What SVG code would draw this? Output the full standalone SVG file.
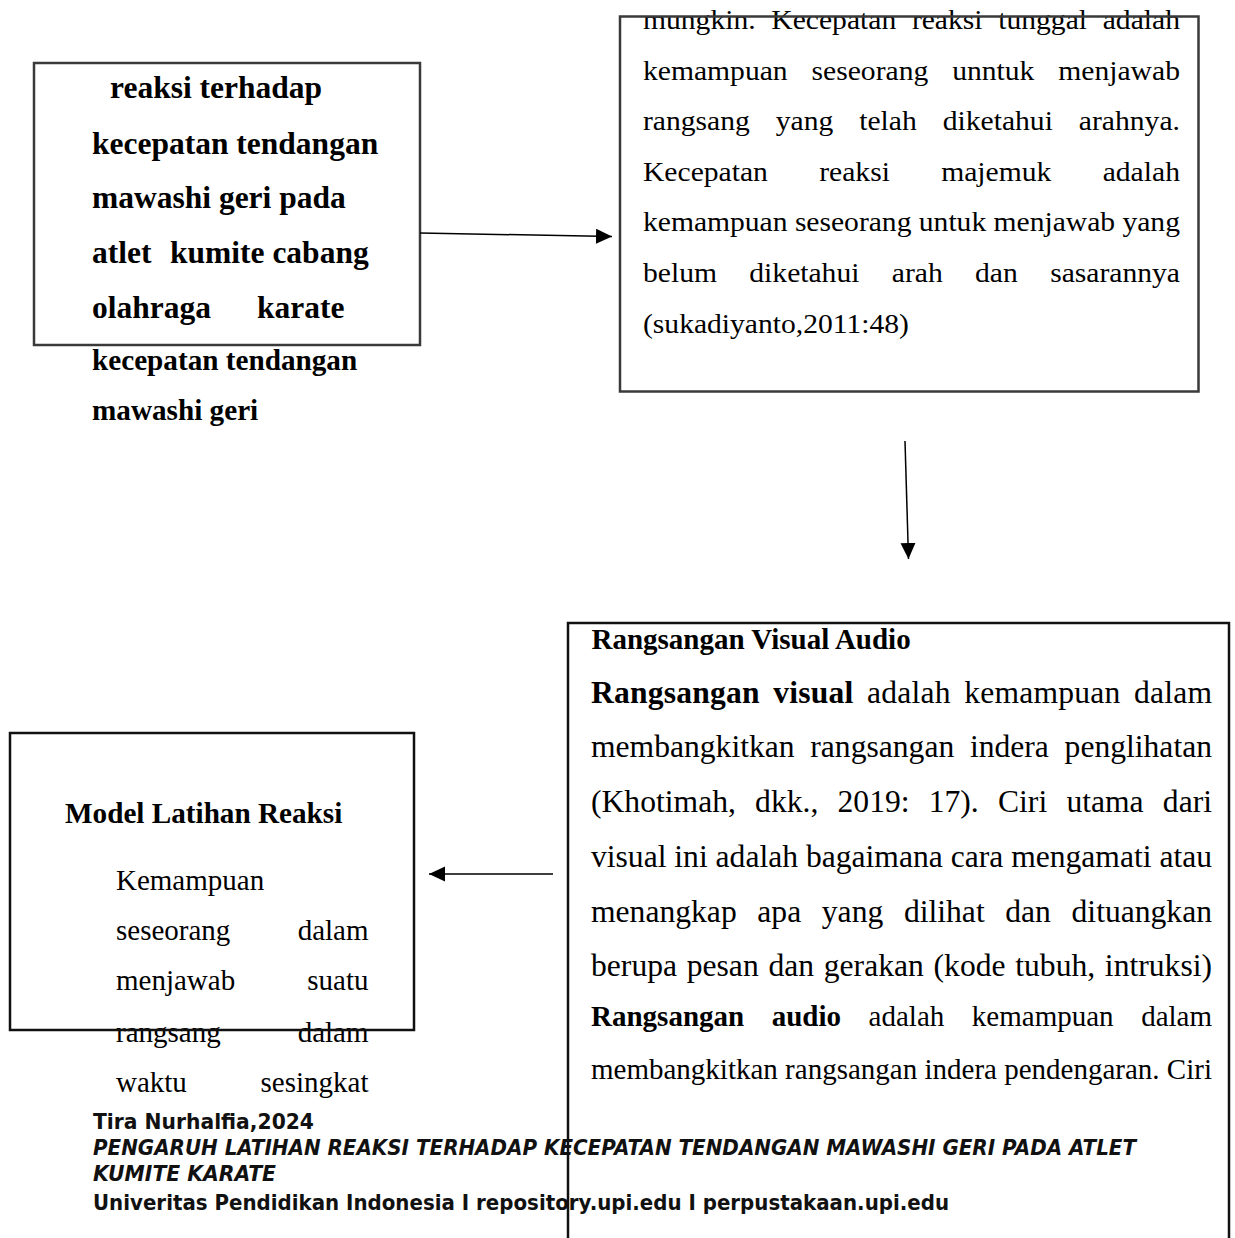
<svg xmlns="http://www.w3.org/2000/svg" width="1235" height="1238" viewBox="0 0 1235 1238">
<style>
.box{fill:none;stroke:#3a3a3a;stroke-width:2.5}
.boxk{fill:none;stroke:#111;stroke-width:2.5}
.b{font-family:"Liberation Serif","Times New Roman",serif;font-weight:bold;fill:#000}
.r{font-family:"Liberation Serif","Times New Roman",serif;font-weight:normal;fill:#000}
.foot{font-family:"DejaVu Sans","Liberation Sans",sans-serif;font-weight:bold;font-size:21px;fill:#111}
.conn{stroke:#000;stroke-width:1.5;fill:none;marker-end:url(#ah)}
</style>
<defs>
<marker id="ah" markerUnits="userSpaceOnUse" markerWidth="17" markerHeight="16" refX="16" refY="7.5" orient="auto">
<path d="M0,0 L16,7.5 L0,15 z" fill="#000"/>
</marker>
</defs>
<rect width="1235" height="1238" fill="#fff"/>

<g id="node-topleft">
<g class="b" font-size="31.5">
<text x="110" y="98">reaksi terhadap</text>
<text x="92" y="154">kecepatan tendangan</text>
<text x="92" y="208">mawashi geri pada</text>
<text x="92" y="263">atlet<tspan x="170">kumite cabang</tspan></text>
<text x="92" y="318">olahraga<tspan x="257">karate</tspan></text>
</g>
<g class="b" font-size="29.2">
<text x="92" y="370">kecepatan tendangan</text>
<text x="92" y="420">mawashi geri</text>
</g>
<rect class="box" x="34" y="63" width="386" height="282"/>
</g>

<g id="node-topright">
<g class="r" font-size="27.5" transform="matrix(1.076,0,0,1,-48.87,0)">
<text x="643" y="29.5" word-spacing="7.7" textLength="499" lengthAdjust="spacing">mungkin. Kecepatan reaksi tunggal adalah</text>
<text x="643" y="80" word-spacing="15.3" textLength="499" lengthAdjust="spacing">kemampuan seseorang unntuk menjawab</text>
<text x="643" y="130.5" word-spacing="17.2" textLength="499" lengthAdjust="spacing">rangsang yang telah diketahui arahnya.</text>
<text x="643" y="181" word-spacing="40.8" textLength="499" lengthAdjust="spacing">Kecepatan reaksi majemuk adalah</text>
<text x="643" y="231.5" textLength="499" lengthAdjust="spacing">kemampuan seseorang untuk menjawab yang</text>
<text x="643" y="282" word-spacing="23.2" textLength="499" lengthAdjust="spacing">belum diketahui arah dan sasarannya</text>
<text x="643" y="333">(sukadiyanto,2011:48)</text>
</g>
<rect class="box" x="620" y="16.5" width="578.5" height="375"/>
</g>

<g id="node-bottomright">
<text class="b" x="591.5" y="649" font-size="29">Rangsangan Visual Audio</text>
<g class="r" font-size="31.6">
<text x="591" y="703" word-spacing="5.4" textLength="621" lengthAdjust="spacing"><tspan class="b">Rangsangan visual</tspan> adalah kemampuan dalam</text>
<text x="591" y="757" word-spacing="7.8" textLength="621" lengthAdjust="spacing">membangkitkan rangsangan indera penglihatan</text>
<text x="591" y="812" word-spacing="11.3" textLength="621" lengthAdjust="spacing">(Khotimah, dkk., 2019: 17). Ciri utama dari</text>
<text x="591" y="867" textLength="621" lengthAdjust="spacing">visual ini adalah bagaimana cara mengamati atau</text>
<text x="591" y="922" word-spacing="12.7" textLength="621" lengthAdjust="spacing">menangkap apa yang dilihat dan dituangkan</text>
<text x="591" y="976" word-spacing="1.8" textLength="621" lengthAdjust="spacing">berupa pesan dan gerakan (kode tubuh, intruksi)</text>
</g>
<g class="r" font-size="29">
<text x="591" y="1026" word-spacing="20.3" textLength="621" lengthAdjust="spacing"><tspan class="b">Rangsangan audio</tspan> adalah kemampuan dalam</text>
<text x="591" y="1079" textLength="621" lengthAdjust="spacing">membangkitkan rangsangan indera pendengaran. Ciri</text>
</g>
<path class="boxk" d="M568,1240 L568,623 L1229,623 L1229,1240"/>
</g>

<g id="node-bottomleft">
<text class="b" x="65" y="823" font-size="29.2">Model Latihan Reaksi</text>
<g class="r" font-size="29">
<text x="116" y="890">Kemampuan</text>
<text x="116" y="940">seseorang</text><text x="368.5" y="940" text-anchor="end">dalam</text>
<text x="116" y="990">menjawab</text><text x="368.5" y="990" text-anchor="end">suatu</text>
<text x="116" y="1041.5">rangsang</text><text x="368.5" y="1041.5" text-anchor="end">dalam</text>
<text x="116" y="1091.5">waktu</text><text x="368.5" y="1091.5" text-anchor="end">sesingkat</text>
</g>
<rect class="boxk" x="10" y="733" width="404" height="297"/>
</g>

<g id="connectors">
<line class="conn" x1="420" y1="233" x2="612" y2="236.5"/>
<line class="conn" x1="905" y1="441" x2="908.5" y2="559"/>
<line class="conn" x1="553" y1="874" x2="429" y2="874"/>
</g>

<g id="footer">
<text class="foot" x="93" y="1129" textLength="221" lengthAdjust="spacingAndGlyphs">Tira Nurhalfia,2024</text>
<text class="foot" x="93" y="1155" font-style="italic" textLength="1043" lengthAdjust="spacingAndGlyphs">PENGARUH LATIHAN REAKSI TERHADAP KECEPATAN TENDANGAN MAWASHI GERI PADA ATLET</text>
<text class="foot" x="93" y="1181" font-style="italic" textLength="183" lengthAdjust="spacingAndGlyphs">KUMITE KARATE</text>
<text class="foot" x="93" y="1210" textLength="856" lengthAdjust="spacingAndGlyphs">Univeritas Pendidikan Indonesia I repository.upi.edu I perpustakaan.upi.edu</text>
</g>
</svg>
